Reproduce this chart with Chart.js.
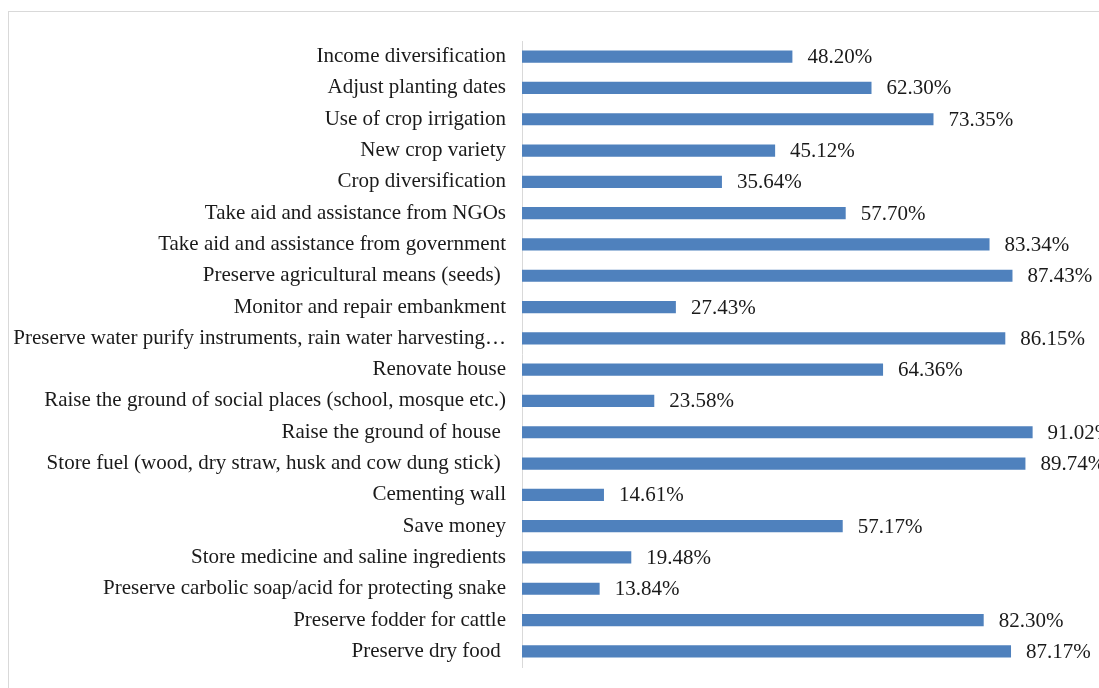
<!DOCTYPE html>
<html>
<head>
<meta charset="utf-8">
<script src="https://cdn.jsdelivr.net/npm/chart.js@4"></script>
<style>
  html, body { margin: 0; padding: 0; background: #fff; }
  #wrap { position: relative; width: 1099px; height: 688px; }
</style>
</head>
<body>
<div id="wrap"><canvas id="c" width="1099" height="688"></canvas></div>
<script>
const categories = [
  "Income diversification",
  "Adjust planting dates",
  "Use of crop irrigation",
  "New crop variety",
  "Crop diversification",
  "Take aid and assistance from NGOs",
  "Take aid and assistance from government",
  "Preserve agricultural means (seeds) ",
  "Monitor and repair embankment",
  "Preserve water purify instruments, rain water harvesting\u2026",
  "Renovate house",
  "Raise the ground of social places (school, mosque etc.)",
  "Raise the ground of house ",
  "Store fuel (wood, dry straw, husk and cow dung stick) ",
  "Cementing wall",
  "Save money",
  "Store medicine and saline ingredients",
  "Preserve carbolic soap/acid for protecting snake",
  "Preserve fodder for cattle",
  "Preserve dry food "
];
const values = [48.20, 62.30, 73.35, 45.12, 35.64, 57.70, 83.34, 87.43, 27.43, 86.15,
                64.36, 23.58, 91.02, 89.74, 14.61, 57.17, 19.48, 13.84, 82.30, 87.17];
const valueLabels = values.map(v => v.toFixed(2) + "%");

const FONT = "'Liberation Serif', 'Times New Roman', serif";

const framePlugin = {
  id: 'frame',
  beforeDraw(chart) {
    const ctx = chart.ctx;
    ctx.save();
    ctx.fillStyle = '#ffffff';
    ctx.fillRect(0, 0, chart.width, chart.height);
    ctx.strokeStyle = '#d9d9d9';
    ctx.lineWidth = 1;
    ctx.strokeRect(8.5, 11.5, 1300, 900);
    ctx.restore();
  }
};

const labelPlugin = {
  id: 'valueLabels',
  afterDatasetsDraw(chart) {
    const ctx = chart.ctx;
    const meta = chart.getDatasetMeta(0);
    ctx.save();
    ctx.font = "21px " + FONT;
    ctx.fillStyle = '#1a1a1a';
    ctx.textAlign = 'left';
    ctx.textBaseline = 'middle';
    meta.data.forEach((bar, i) => {
      ctx.fillText(valueLabels[i], bar.x + 15, bar.y + 1);
    });
    ctx.restore();
  }
};

new Chart(document.getElementById('c'), {
  type: 'bar',
  data: {
    labels: categories,
    datasets: [{
      data: values,
      backgroundColor: '#4f81bd',
      borderWidth: 0,
      barPercentage: 0.75,
      categoryPercentage: 0.52
    }]
  },
  options: {
    indexAxis: 'y',
    responsive: false,
    animation: false,
    devicePixelRatio: 1,
    layout: { padding: { left: 0, top: 41, right: 16, bottom: 21 } },
    plugins: { legend: { display: false }, tooltip: { enabled: false } },
    scales: {
      x: {
        display: false,
        min: 0,
        max: 100
      },
      y: {
        afterFit(axis) { axis.width = 522; axis.paddingTop = 0; axis.paddingBottom = 0; },
        grid: { display: false, drawTicks: false },
        border: { display: true, color: '#d9d9d9', width: 1 },
        ticks: {
          color: '#1a1a1a',
          padding: 16,
          autoSkip: false,
          font: { family: FONT, size: 21 }
        }
      }
    }
  },
  plugins: [framePlugin, labelPlugin]
});
</script>
</body>
</html>
